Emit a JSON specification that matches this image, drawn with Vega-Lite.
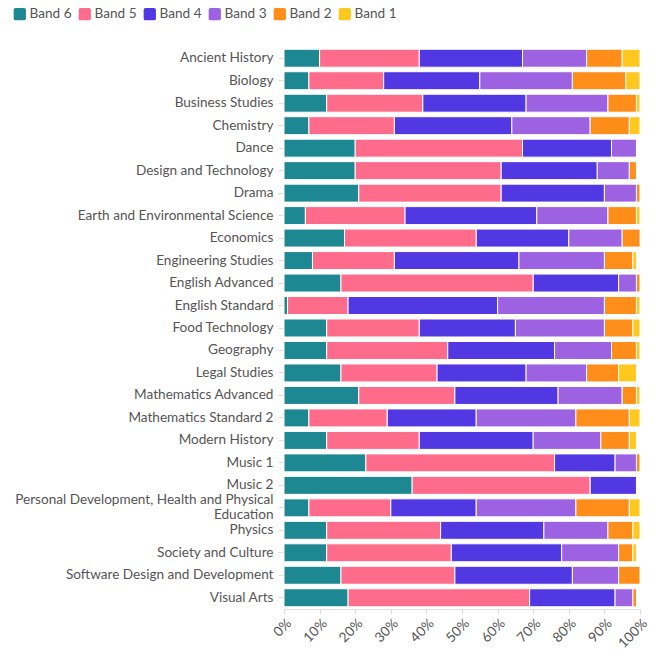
{
  "$schema": "https://vega.github.io/schema/vega-lite/v6.json",
  "width": 356,
  "height": 562,
  "padding": {"left": 13, "top": 7, "right": 5, "bottom": 5},
  "config": {
    "view": {"stroke": null},
    "font": "Lato",
    "axis": {"labelFont": "Lato", "labelColor": "#555555", "labelFontSize": 13.6}
  },
  "data": {
    "values": [
      {"subject": "Ancient History", "Band 6": 10, "Band 5": 28, "Band 4": 29, "Band 3": 18, "Band 2": 10, "Band 1": 5},
      {"subject": "Biology", "Band 6": 7, "Band 5": 21, "Band 4": 27, "Band 3": 26, "Band 2": 15, "Band 1": 4},
      {"subject": "Business Studies", "Band 6": 12, "Band 5": 27, "Band 4": 29, "Band 3": 23, "Band 2": 8, "Band 1": 1},
      {"subject": "Chemistry", "Band 6": 7, "Band 5": 24, "Band 4": 33, "Band 3": 22, "Band 2": 11, "Band 1": 3},
      {"subject": "Dance", "Band 6": 20, "Band 5": 47, "Band 4": 25, "Band 3": 7, "Band 2": 0, "Band 1": 0},
      {"subject": "Design and Technology", "Band 6": 20, "Band 5": 41, "Band 4": 27, "Band 3": 9, "Band 2": 2, "Band 1": 0},
      {"subject": "Drama", "Band 6": 21, "Band 5": 40, "Band 4": 29, "Band 3": 9, "Band 2": 1, "Band 1": 0},
      {"subject": "Earth and Environmental Science", "Band 6": 6, "Band 5": 28, "Band 4": 37, "Band 3": 20, "Band 2": 8, "Band 1": 1},
      {"subject": "Economics", "Band 6": 17, "Band 5": 37, "Band 4": 26, "Band 3": 15, "Band 2": 5, "Band 1": 0},
      {"subject": "Engineering Studies", "Band 6": 8, "Band 5": 23, "Band 4": 35, "Band 3": 24, "Band 2": 8, "Band 1": 1},
      {"subject": "English Advanced", "Band 6": 16, "Band 5": 54, "Band 4": 24, "Band 3": 5, "Band 2": 1, "Band 1": 0},
      {"subject": "English Standard", "Band 6": 1, "Band 5": 17, "Band 4": 42, "Band 3": 30, "Band 2": 9, "Band 1": 1},
      {"subject": "Food Technology", "Band 6": 12, "Band 5": 26, "Band 4": 27, "Band 3": 25, "Band 2": 8, "Band 1": 2},
      {"subject": "Geography", "Band 6": 12, "Band 5": 34, "Band 4": 30, "Band 3": 16, "Band 2": 7, "Band 1": 1},
      {"subject": "Legal Studies", "Band 6": 16, "Band 5": 27, "Band 4": 25, "Band 3": 17, "Band 2": 9, "Band 1": 5},
      {"subject": "Mathematics Advanced", "Band 6": 21, "Band 5": 27, "Band 4": 29, "Band 3": 18, "Band 2": 4, "Band 1": 1},
      {"subject": "Mathematics Standard 2", "Band 6": 7, "Band 5": 22, "Band 4": 25, "Band 3": 28, "Band 2": 15, "Band 1": 3},
      {"subject": "Modern History", "Band 6": 12, "Band 5": 26, "Band 4": 32, "Band 3": 19, "Band 2": 8, "Band 1": 2},
      {"subject": "Music 1", "Band 6": 23, "Band 5": 53, "Band 4": 17, "Band 3": 6, "Band 2": 1, "Band 1": 0},
      {"subject": "Music 2", "Band 6": 36, "Band 5": 50, "Band 4": 13, "Band 3": 0, "Band 2": 0, "Band 1": 0},
      {"subject": "Personal Development, Health and Physical Education", "Band 6": 7, "Band 5": 23, "Band 4": 24, "Band 3": 28, "Band 2": 15, "Band 1": 3},
      {"subject": "Physics", "Band 6": 12, "Band 5": 32, "Band 4": 29, "Band 3": 18, "Band 2": 7, "Band 1": 2},
      {"subject": "Society and Culture", "Band 6": 12, "Band 5": 35, "Band 4": 31, "Band 3": 16, "Band 2": 4, "Band 1": 1},
      {"subject": "Software Design and Development", "Band 6": 16, "Band 5": 32, "Band 4": 33, "Band 3": 13, "Band 2": 6, "Band 1": 0},
      {"subject": "Visual Arts", "Band 6": 18, "Band 5": 51, "Band 4": 24, "Band 3": 5, "Band 2": 1, "Band 1": 0}
    ]
  },
  "transform": [
    {"fold": ["Band 6", "Band 5", "Band 4", "Band 3", "Band 2", "Band 1"], "as": ["band", "pct"]},
    {"filter": "datum.pct > 0"}
  ],
  "mark": {"type": "bar", "stroke": "white", "strokeWidth": 1},
  "encoding": {
    "y": {
      "field": "subject", "type": "nominal", "sort": null, "title": null,
      "scale": {"paddingInner": 0.2, "paddingOuter": 0.1},
      "axis": {
        "domain": false, "tickColor": "#dddddd", "tickSize": 6, "labelPadding": 5, "labelLimit": 300,
        "labelOffset": {"condition": {"test": "datum.value == 'Personal Development, Health and Physical Education'", "value": -8}, "value": 0},
        "labelExpr": "datum.label == 'Personal Development, Health and Physical Education' ? ['Personal Development, Health and Physical', 'Education'] : datum.label"
      }
    },
    "x": {
      "field": "pct", "type": "quantitative", "stack": "zero", "title": null,
      "scale": {"domain": [0, 100], "nice": false},
      "axis": {
        "values": [0, 10, 20, 30, 40, 50, 60, 70, 80, 90, 100],
        "labelExpr": "datum.value + '%'", "labelAngle": -45, "grid": false,
        "domainColor": "#dddddd", "tickColor": "#dddddd", "tickSize": 5
      }
    },
    "color": {
      "field": "band", "type": "nominal",
      "scale": {
        "domain": ["Band 6", "Band 5", "Band 4", "Band 3", "Band 2", "Band 1"],
        "range": ["#1d8891", "#ff6b8a", "#5138e3", "#9d62e2", "#ff8d1a", "#ffc81e"]
      },
      "legend": {
        "title": null, "orient": "none", "direction": "horizontal",
        "legendX": -271, "legendY": -40,
        "symbolType": "M -0.7 -1 L 0.7 -1 Q 1 -1 1 -0.7 L 1 0.7 Q 1 1 0.7 1 L -0.7 1 Q -1 1 -1 0.7 L -1 -0.7 Q -1 -1 -0.7 -1 Z",
        "symbolSize": 150, "symbolStrokeWidth": 0, "symbolOpacity": 1,
        "labelFont": "Lato", "labelFontSize": 13.6, "labelColor": "#555555",
        "columnPadding": 6, "labelOffset": 3
      }
    },
    "order": {"field": "band", "sort": "descending"}
  }
}
